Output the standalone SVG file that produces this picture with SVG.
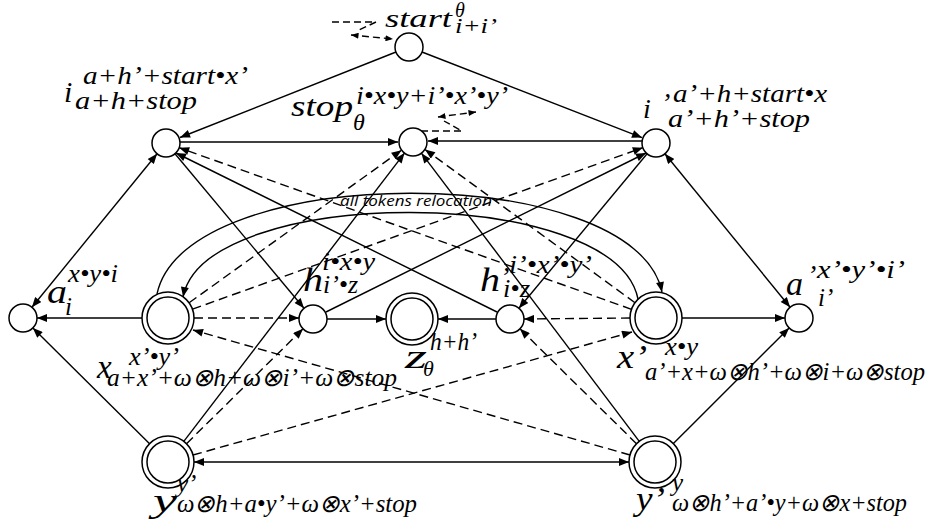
<svg xmlns="http://www.w3.org/2000/svg" width="930" height="530" viewBox="0 0 930 530">
<style>
.n{fill:#fff;stroke:#000;stroke-width:1.5}
.e{fill:none;stroke:#000;stroke-width:1.4}
.d{stroke-dasharray:9 5}
.d2{stroke-dasharray:7 4}
.t{font-family:"Liberation Serif","Times New Roman",serif;font-style:italic;font-weight:normal;fill:#000}
.b{font-size:33px}
.s{font-size:25px}
.lbl{font-family:"Open Sans","DejaVu Sans",sans-serif;font-style:italic;font-size:14px;fill:#000}
</style>
<defs>
<marker id="ah" viewBox="0 0 10 8" refX="10" refY="4" markerWidth="11" markerHeight="8" markerUnits="userSpaceOnUse" orient="auto-start-reverse"><path d="M0,0 L10,4 L0,8 z" fill="#000"/></marker>
<marker id="ahs" viewBox="0 0 10 8" refX="10" refY="4" markerWidth="8" markerHeight="6" markerUnits="userSpaceOnUse" orient="auto-start-reverse"><path d="M0,0 L10,4 L0,8 z" fill="#000"/></marker>
</defs>
<rect width="930" height="530" fill="#fff"/>
<g id="connectors">
<g class="e" marker-end="url(#ah)">
<path d="M396,52 L180,137.5"/>
<path d="M422,52 L642,137.6"/>
<path d="M180,142 L398,142"/>
<path d="M642,141 L428,141"/>
<path d="M149.6,443.7 L32.9,327.9"/>
<path d="M673.4,443.6 L789.1,327.9"/>
<path d="M142,318 L37,318"/>
<path d="M682,318 L785,318"/>
<path d="M327,319 L386,319"/>
<path d="M496,319 L438,319"/>
<path d="M175,153.8 L304,308.2"/>
<path d="M647.1,153.8 L518.9,308.2"/>
<path d="M326,312 L646,153"/>
<path d="M497,312 L176,153"/>
<path d="M183.8,441.4 L404.5,153.1"/>
<path d="M639.3,441.3 L421.4,153.2"/>
<path d="M157,294 C185,160 635,160 662,292"/>
<path d="M638,299 C615,184 205,184 183,297"/>
</g>
<g class="e" marker-start="url(#ah)" marker-end="url(#ah)">
<path d="M157.1,153.8 L31.9,307.2"/>
<path d="M664.9,153.8 L790.1,307.2"/>
<path d="M194,462 L629,462"/>
</g>
<g class="e d" marker-end="url(#ah)">
<path d="M194,318 L299,318"/>
<path d="M630,318 L524,319"/>
<path d="M631.5,309.3 L179.2,147.7"/>
<path d="M192.5,309.2 L642.8,147.7"/>
<path d="M189.1,302.8 L401.5,150.2"/>
<path d="M635,302.7 L425,149.5"/>
<path d="M186.5,443.7 L303,328.8"/>
<path d="M636.5,443.7 L520,328.8"/>
<path d="M193,455 L632,332"/>
<path d="M630,455 L193,330"/>
</g>
<path class="e d2" d="M332,22 L376,22 L357,31"/>
<path class="e d2" d="M351,35 L393,39" marker-start="url(#ahs)" marker-end="url(#ahs)"/>
<path class="e d2" d="M421,131 L462,131 L444,121"/>
<path class="e d2" d="M438,117 L476,112" marker-start="url(#ahs)" marker-end="url(#ahs)"/>
<text class="lbl" x="340" y="206" textLength="152" lengthAdjust="spacingAndGlyphs">all tokens relocation</text>
</g>
<g id="start">
<circle class="n" cx="409" cy="47" r="14"/>
<text class="t" x="385" y="27" font-size="26" textLength="67" lengthAdjust="spacingAndGlyphs">start</text>
<text class="t" x="455" y="17" font-size="20">θ</text>
<text class="t" x="455" y="33" font-size="20" textLength="42" lengthAdjust="spacingAndGlyphs">i+i’</text>
</g>
<g id="i">
<circle class="n" cx="166" cy="143" r="14"/>
<text class="t" x="64" y="102" font-size="30">i</text>
<text class="t s" x="83" y="84" textLength="165" lengthAdjust="spacingAndGlyphs">a+h’+start•x’</text>
<text class="t s" x="75" y="109" textLength="122" lengthAdjust="spacingAndGlyphs">a+h+stop</text>
</g>
<g id="stop">
<circle class="n" cx="413" cy="142" r="14"/>
<text class="t" x="291" y="116" font-size="30" textLength="62" lengthAdjust="spacingAndGlyphs">stop</text>
<text class="t s" x="356" y="104" textLength="152" lengthAdjust="spacingAndGlyphs">i•x•y+i’•x’•y’</text>
<text class="t" x="353" y="130" font-size="24">θ</text>
</g>
<g id="i_prime">
<circle class="n" cx="656" cy="143" r="14"/>
<text class="t" x="643" y="118" font-size="28">i</text>
<text class="t" x="661" y="112" font-size="28">’</text>
<text class="t s" x="673" y="102" textLength="154" lengthAdjust="spacingAndGlyphs">a’+h+start•x</text>
<text class="t s" x="668" y="127" textLength="142" lengthAdjust="spacingAndGlyphs">a’+h’+stop</text>
</g>
<g id="a">
<circle class="n" cx="23" cy="318" r="14"/>
<text class="t b" x="47" y="303" textLength="20" lengthAdjust="spacingAndGlyphs">a</text>
<text class="t s" x="65" y="315">i</text>
<text class="t s" x="68" y="282" textLength="50" lengthAdjust="spacingAndGlyphs">x•y•i</text>
</g>
<g id="x">
<circle class="n" cx="168" cy="318" r="26"/>
<circle class="n" cx="168" cy="318" r="21"/>
<text class="t b" x="97" y="378">x</text>
<text class="t s" x="129" y="365" textLength="50" lengthAdjust="spacingAndGlyphs">x’•y’</text>
<text class="t s" x="107" y="386" textLength="290" lengthAdjust="spacingAndGlyphs">a+x’+ω⊗h+ω⊗i’+ω⊗stop</text>
</g>
<g id="h">
<circle class="n" cx="313" cy="319" r="14"/>
<text class="t b" x="303" y="291" textLength="20" lengthAdjust="spacingAndGlyphs">h</text>
<text class="t s" x="322" y="270" textLength="53" lengthAdjust="spacingAndGlyphs">i•x•y</text>
<text class="t s" x="323" y="293" textLength="35" lengthAdjust="spacingAndGlyphs">i’•z</text>
</g>
<g id="z">
<circle class="n" cx="412" cy="319" r="26"/>
<circle class="n" cx="412" cy="319" r="21"/>
<text class="t b" x="405" y="368" textLength="22" lengthAdjust="spacingAndGlyphs">z</text>
<text class="t" x="423" y="376" font-size="22">θ</text>
<text class="t s" x="430" y="350" textLength="47" lengthAdjust="spacingAndGlyphs">h+h’</text>
</g>
<g id="h_prime">
<circle class="n" cx="510" cy="319" r="14"/>
<text class="t b" x="480" y="291" textLength="20" lengthAdjust="spacingAndGlyphs">h</text>
<text class="t" x="500" y="286" font-size="28">’</text>
<text class="t s" x="509" y="273" textLength="83" lengthAdjust="spacingAndGlyphs">i’•x’•y’</text>
<text class="t s" x="503" y="297" textLength="27" lengthAdjust="spacingAndGlyphs">i•z</text>
</g>
<g id="x_prime">
<circle class="n" cx="656" cy="318" r="26"/>
<circle class="n" cx="656" cy="318" r="21"/>
<text class="t b" x="617" y="368" textLength="30" lengthAdjust="spacingAndGlyphs">x’</text>
<text class="t s" x="665" y="355" textLength="33" lengthAdjust="spacingAndGlyphs">x•y</text>
<text class="t s" x="645" y="380" textLength="280" lengthAdjust="spacingAndGlyphs">a’+x+ω⊗h’+ω⊗i+ω⊗stop</text>
</g>
<g id="a_prime">
<circle class="n" cx="799" cy="318" r="14"/>
<text class="t b" x="786" y="295" textLength="17" lengthAdjust="spacingAndGlyphs">a</text>
<text class="t" x="807" y="284" font-size="28">’</text>
<text class="t s" x="817" y="278" textLength="88" lengthAdjust="spacingAndGlyphs">x’•y’•i’</text>
<text class="t s" x="818" y="306">i’</text>
</g>
<g id="y">
<circle class="n" cx="168" cy="462" r="26"/>
<circle class="n" cx="168" cy="462" r="21"/>
<text class="t b" x="153" y="512" textLength="24" lengthAdjust="spacingAndGlyphs">y</text>
<text class="t s" x="177" y="492">y’</text>
<text class="t s" x="177" y="512" textLength="240" lengthAdjust="spacingAndGlyphs">ω⊗h+a•y’+ω⊗x’+stop</text>
</g>
<g id="y_prime">
<circle class="n" cx="655" cy="462" r="26"/>
<circle class="n" cx="655" cy="462" r="21"/>
<text class="t b" x="636" y="510" textLength="29" lengthAdjust="spacingAndGlyphs">y’</text>
<text class="t s" x="672" y="491">y</text>
<text class="t s" x="672" y="511" textLength="235" lengthAdjust="spacingAndGlyphs">ω⊗h’+a’•y+ω⊗x+stop</text>
</g>
</svg>
